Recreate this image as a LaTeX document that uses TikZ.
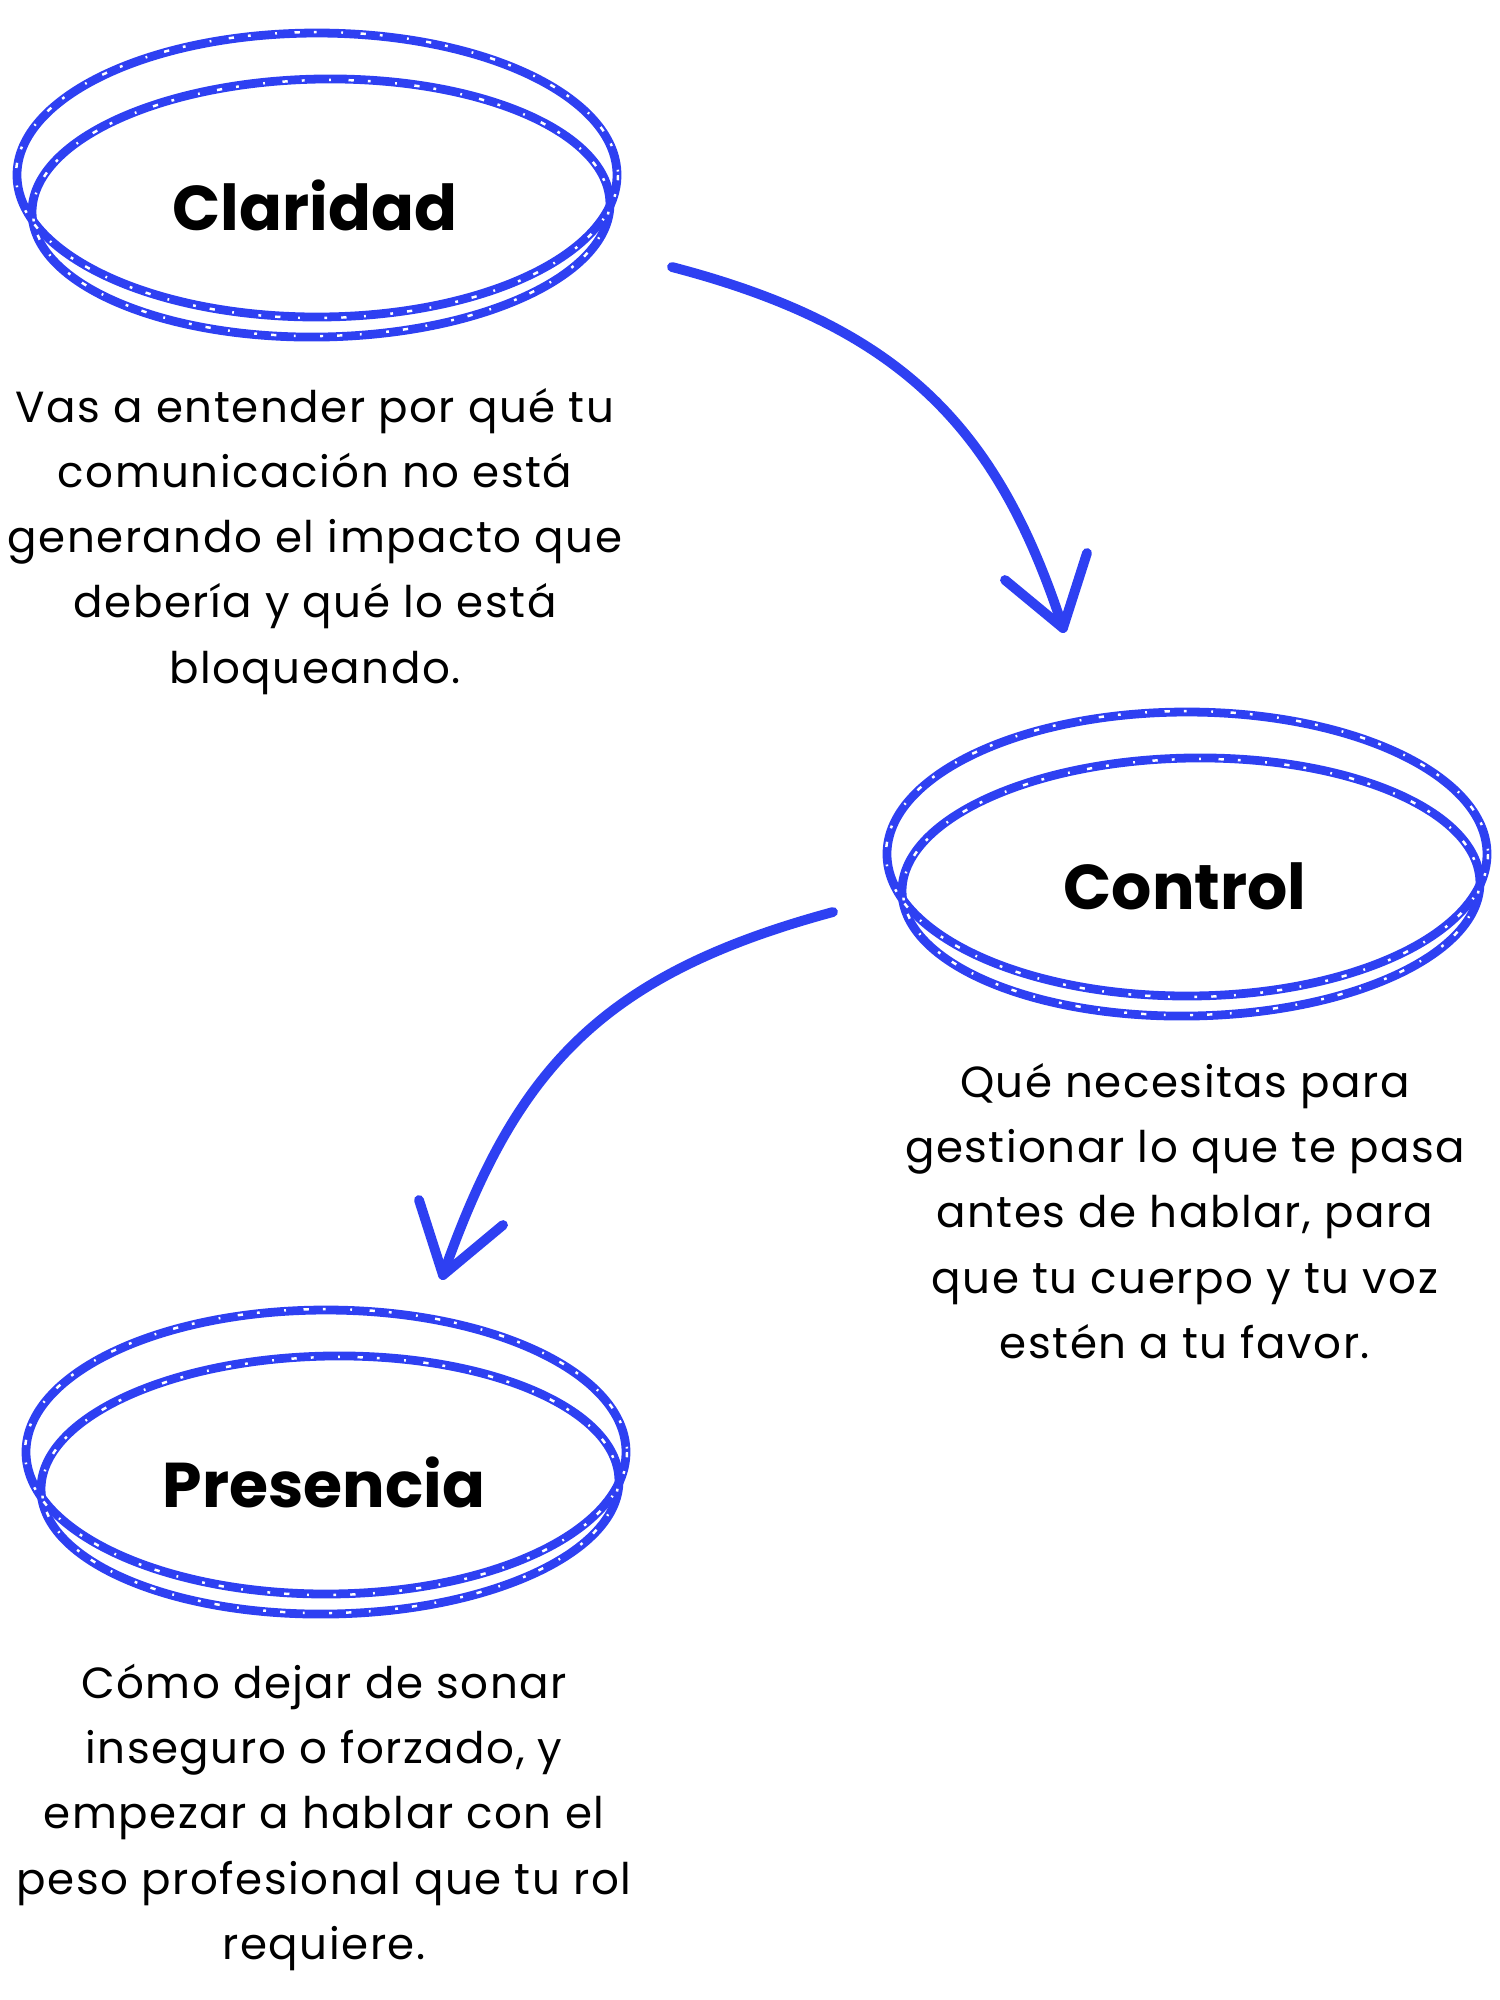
\documentclass[tikz,border=0pt]{standalone}
\usepackage{fontspec}
\setmainfont{Poppins}
\usepackage{tikz}
\usetikzlibrary{positioning}
\definecolor{loopblue}{HTML}{2E40F2}

\begin{document}
\begin{tikzpicture}[
  x=0.1mm, y=-0.1mm,
  title/.style={font=\fontsize{18}{22}\selectfont\bfseries, inner sep=0pt, anchor=base},
  desc/.style={font=\fontsize{12.4}{18.5}\selectfont\addfontfeatures{LetterSpace=3.5}, align=center, inner sep=0pt},
  ]
  \tikzset{%
    loopline/.style={draw=loopblue, line width=2.5pt},
    speck/.style={draw=white, line width=0.7pt, dash pattern=on 1.5pt off 4pt on 0.8pt off 7pt on 0.5pt off 5pt},
    arrowline/.style={draw=loopblue, line width=2.8pt, line cap=round, line join=round},
  }
  \useasboundingbox (0,0) rectangle (1500,2000);
  %Nodes
  \node[title] (claridad) at (315,230) {Claridad};
  \node[title] (control) at (1185,909) {Control};
  \node[title] (presencia) at (324,1507) {Presencia};
  % base of a multi-line node is its last line
  \node[desc, below=45.3mm of claridad.base, anchor=base] (claridadtxt) {Vas a entender por qué tu\\comunicación no está\\generando el impacto que\\debería y qué lo está\\bloqueando.};
  \node[desc, below=44.9mm of control.base, anchor=base] (controltxt) {Qué necesitas para\\gestionar lo que te pasa\\antes de hablar, para\\que tu cuerpo y tu voz\\estén a tu favor.};
  \node[desc, below=45.2mm of presencia.base, anchor=base] (presenciatxt) {Cómo dejar de sonar\\inseguro o forzado, y\\empezar a hablar con el\\peso profesional que tu rol\\requiere.};
  %Loops
  \foreach \n in {claridad,control,presencia}{
    \draw[loopline] ([shift={(2,-55)}]\n.base) ellipse [x radius=300, y radius=142];
    \draw[loopline] ([shift={(6,-22)}]\n.base) ellipse [x radius=289, y radius=129, rotate=1];
    \draw[speck] ([shift={(2,-55)}]\n.base) ellipse [x radius=301, y radius=143];
    \draw[speck, dash phase=3pt] ([shift={(6,-22)}]\n.base) ellipse [x radius=288, y radius=128, rotate=1];
  }
  %Arrows
  \coordinate (a1) at (672,267);
  \coordinate (a1tip) at (1063,628);
  \coordinate (a1l) at (1005,580);
  \coordinate (a1r) at (1087,553);
  \coordinate (a2) at (833,912);
  \coordinate (a2tip) at (443,1275);
  \coordinate (a2l) at (419,1200);
  \coordinate (a2r) at (503,1225);
  \draw[arrowline] (a1) .. controls (902,327) and (998,428) .. (a1tip);
  \draw[arrowline] (a1l) -- (a1tip) -- (a1r);
  \draw[arrowline] (a2) .. controls (600,975) and (515,1070) .. (a2tip);
  \draw[arrowline] (a2l) -- (a2tip) -- (a2r);
\end{tikzpicture}
\end{document}
